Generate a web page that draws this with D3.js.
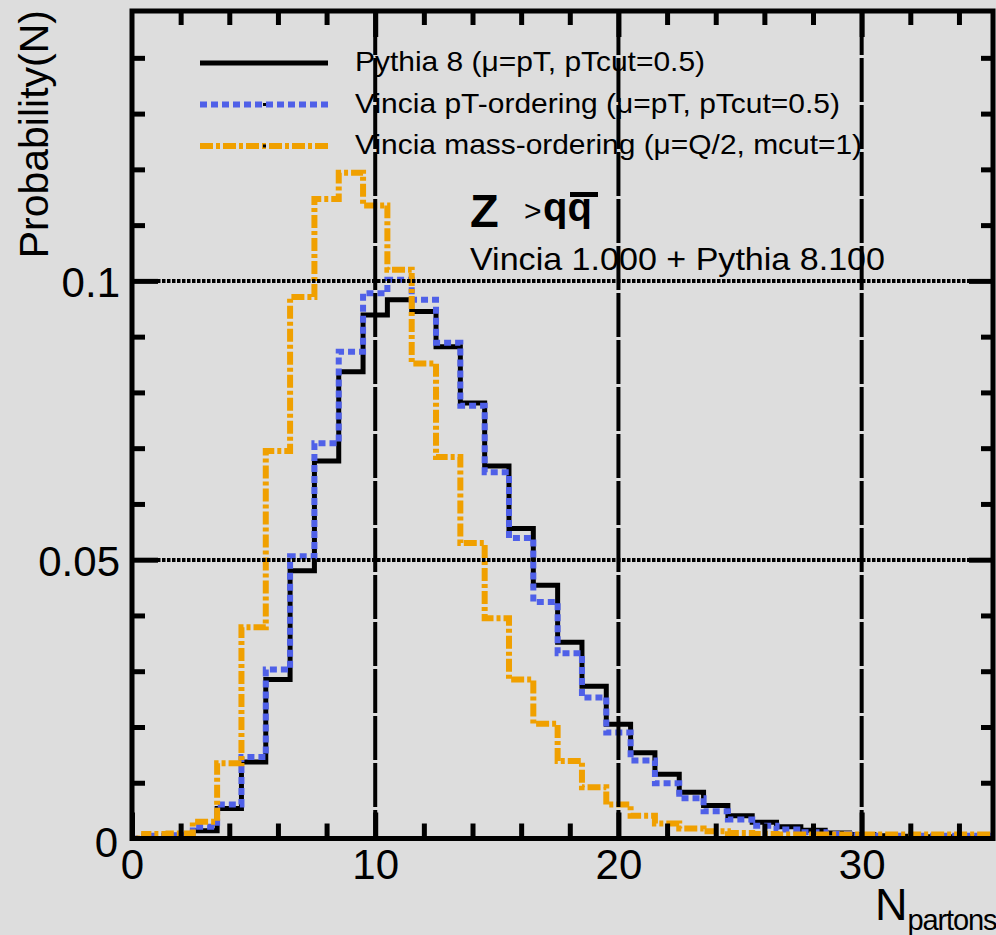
<!DOCTYPE html>
<html>
<head>
<meta charset="utf-8">
<script src="https://cdn.jsdelivr.net/npm/d3@7"></script>
<style>
  html, body { margin: 0; padding: 0; background: #dddddd; }
  svg { display: block; }
  text { font-family: "Liberation Sans", Arial, Helvetica, sans-serif; fill: #000; }
</style>
</head>
<body>
<div id="chart"></div>
<script>
// bins are centred on integer parton multiplicities
var nBins = d3.range(0, 36)

var pythia8 = [0, 0, 0.0002, 0.0014, 0.0054, 0.0137, 0.0285, 0.0480, 0.0677, 0.0837,
  0.0939, 0.0966, 0.0945, 0.0882, 0.0781, 0.0668, 0.0556, 0.0454, 0.0352, 0.0273,
  0.0205, 0.0154, 0.0115, 0.0083, 0.0059, 0.0041, 0.0029, 0.0021, 0.0015, 0.0010,
  0.0007, 0.0005, 0.0004, 0.0003, 0.0003, 0.0002]

var vinciaPT = [0, 0.0005, 0.0006, 0.0021, 0.0061, 0.0146, 0.0303, 0.0506, 0.0709, 0.0873,
  0.0978, 0.1002, 0.0966, 0.0889, 0.0776, 0.0657, 0.0539, 0.0424, 0.0332, 0.0253,
  0.0190, 0.0140, 0.0099, 0.0072, 0.0049, 0.0034, 0.0023, 0.0016, 0.0011, 0.0008,
  0.0006, 0.0005, 0.0005, 0.0005, 0.0005, 0.0005]

var vinciaMass = [0, 0.0008, 0.0009, 0.0030, 0.0135, 0.0379, 0.0695, 0.0971, 0.1147, 0.1194,
  0.1135, 0.1020, 0.0852, 0.0684, 0.0530, 0.0395, 0.0285, 0.0206, 0.0139, 0.0092,
  0.0061, 0.0041, 0.0027, 0.0018, 0.0013, 0.0010, 0.0008, 0.0007, 0.0007, 0.0007,
  0.0007, 0.0007, 0.0007, 0.0007, 0.0007, 0.0007]

var seriesNames = ["Pythia 8 (\u03bc=pT, pTcut=0.5)",
  "Vincia pT-ordering (\u03bc=pT, pTcut=0.5)",
  "Vincia mass-ordering (\u03bc=Q/2, mcut=1)"]

var xMajor = [0, 10, 20, 30]
var xMinor = [2, 4, 6, 8, 12, 14, 16, 18, 22, 24, 26, 28, 32, 34]
var yMajor = [0.05, 0.1]
var yMinor = [0.01, 0.02, 0.03, 0.04, 0.06, 0.07, 0.08, 0.09, 0.11, 0.12, 0.13, 0.14]

var width = 996, height = 935
var plot = {left: 132, right: 993, top: 11, bottom: 838.5}

var svg = d3.select("#chart")
  .append("svg")
  .attr("width", width)
  .attr("height", height)

svg.append("rect").attr("width", width).attr("height", height).attr("fill", "#dddddd")

var x = d3.scaleLinear().domain([0, 35.4]).range([plot.left, plot.right])
var y = d3.scaleLinear().domain([0, 0.1484]).range([plot.bottom, plot.top])

svg.append("clipPath").attr("id", "clip")
  .append("rect")
  .attr("x", plot.left).attr("y", plot.top)
  .attr("width", plot.right - plot.left).attr("height", plot.bottom - plot.top)

var series = [
  {name: seriesNames[0], values: pythia8, color: "#000000", width: 5, dash: null},
  {name: seriesNames[1], values: vinciaPT, color: "#4f60e8", width: 6, dash: "7,4"},
  {name: seriesNames[2], values: vinciaMass, color: "#f0a000", width: 6, dash: "13,3,4,3"}
]

var step = d3.line()
  .x(function(d){ return x(d[0]) })
  .y(function(d){ return y(d[1]) })
  .curve(d3.curveStepAfter)

var hist = svg.append("g").attr("clip-path", "url(#clip)")
series.forEach(function(s) {
  var pts = nBins.map(function(n, i){ return [n - 0.5, s.values[i]] })
  pts.push([nBins[nBins.length - 1] + 0.5, s.values[s.values.length - 1]])
  hist.append("path")
    .datum(pts)
    .attr("d", step)
    .attr("fill", "none")
    .attr("stroke", s.color)
    .attr("stroke-width", s.width)
    .attr("stroke-dasharray", s.dash)
    .attr("stroke-linejoin", "miter")
})

// dotted grid
var grid = svg.append("g")
grid.selectAll(".gx").data(xMajor.slice(1)).enter()
  .append("line")
  .attr("x1", function(d){ return x(d) }).attr("x2", function(d){ return x(d) })
  .attr("y1", plot.top).attr("y2", plot.bottom)
  .attr("stroke", "#000").attr("stroke-width", 4)
  .attr("stroke-dasharray", "44,3")
grid.selectAll(".gy").data(yMajor).enter()
  .append("line")
  .attr("x1", plot.left).attr("x2", plot.right)
  .attr("y1", function(d){ return Math.round(y(d)) }).attr("y2", function(d){ return Math.round(y(d)) })
  .attr("stroke", "#000").attr("stroke-width", 4)
  .attr("stroke-dasharray", "3.5,1.5")

function styleAxis(g) {
  g.select(".domain").remove()
  g.selectAll(".tick line").attr("stroke", "#000").attr("stroke-width", 5)
  g.selectAll("text").style("font-size", "42px").attr("fill", "#000")
    .style("font-family", "'Liberation Sans', Arial, sans-serif")
}

// bottom axis
svg.append("g").attr("transform", "translate(0," + plot.bottom + ")")
  .call(d3.axisBottom(x).tickValues(xMinor).tickSize(-15).tickFormat(""))
  .call(styleAxis)
svg.append("g").attr("transform", "translate(0," + plot.bottom + ")")
  .call(d3.axisBottom(x).tickValues(xMajor).tickSize(-26).tickPadding(11).tickFormat(d3.format("d")))
  .call(styleAxis)

// top axis
svg.append("g").attr("transform", "translate(0," + plot.top + ")")
  .call(d3.axisTop(x).tickValues(xMinor).tickSize(-14).tickFormat(""))
  .call(styleAxis)
svg.append("g").attr("transform", "translate(0," + plot.top + ")")
  .call(d3.axisTop(x).tickValues(xMajor.slice(1)).tickSize(-26).tickFormat(""))
  .call(styleAxis)

// left axis
svg.append("g").attr("transform", "translate(" + plot.left + ",0)")
  .call(d3.axisLeft(y).tickValues(yMinor).tickSize(-13).tickFormat(""))
  .call(styleAxis)
var yAx = svg.append("g").attr("transform", "translate(" + plot.left + ",0)")
  .call(d3.axisLeft(y).tickValues(yMajor).tickSize(-26).tickPadding(12).tickFormat(function(d){ return String(d) }))
  .call(styleAxis)
yAx.selectAll("text").attr("dy", "0.38em")

// right axis
svg.append("g").attr("transform", "translate(" + plot.right + ",0)")
  .call(d3.axisRight(y).tickValues(yMinor).tickSize(-12).tickFormat(""))
  .call(styleAxis)
svg.append("g").attr("transform", "translate(" + plot.right + ",0)")
  .call(d3.axisRight(y).tickValues(yMajor).tickSize(-24).tickFormat(""))
  .call(styleAxis)

// y zero label sits apart from the x zero label
svg.append("text")
  .attr("x", plot.left - 14).attr("y", y(0) + 18)
  .attr("text-anchor", "end")
  .style("font-size", "42px")
  .text("0")

// frame
svg.append("rect")
  .attr("x", plot.left).attr("y", plot.top)
  .attr("width", plot.right - plot.left).attr("height", plot.bottom - plot.top)
  .attr("fill", "none").attr("stroke", "#000").attr("stroke-width", 5)

// axis titles
svg.append("text")
  .attr("transform", "translate(48," + (plot.top - 1) + ") rotate(-90)")
  .attr("text-anchor", "end")
  .style("font-size", "41px")
  .text("Probability(N)")

var xt = svg.append("text")
  .attr("x", 875).attr("y", 920)
  .style("font-size", "45px")
xt.append("tspan").text("N")
xt.append("tspan").attr("dy", 10).style("font-size", "29px").attr("textLength", 90).text("partons")

// legend
var legend = svg.append("g")
series.forEach(function(s, i) {
  var ly = 63 + i * 41.5
  legend.append("line")
    .attr("x1", 200).attr("x2", 328)
    .attr("y1", ly).attr("y2", ly)
    .attr("stroke", s.color)
    .attr("stroke-width", s.width)
    .attr("stroke-dasharray", s.dash)
  if (i > 0) {
    legend.append("rect")
      .attr("x", 263).attr("y", ly - 1.5)
      .attr("width", 3).attr("height", 3)
      .attr("fill", "#000")
  }
  legend.append("text")
    .attr("x", 355).attr("y", ly + 8)
    .style("font-size", "28px")
    .attr("textLength", [350, 485, 507][i])
    .attr("lengthAdjust", "spacingAndGlyphs")
    .text(s.name)
})

// process label
svg.append("text")
  .attr("x", 470).attr("y", 227)
  .style("font-size", "47px").style("font-weight", "bold")
  .text("Z")
svg.append("text")
  .attr("x", 524).attr("y", 221)
  .style("font-size", "30px")
  .text(">")
svg.append("text")
  .attr("x", 543).attr("y", 221)
  .style("font-size", "40px").style("font-weight", "bold")
  .text("qq")
svg.append("rect")
  .attr("x", 570).attr("y", 192)
  .attr("width", 28).attr("height", 5)
  .attr("fill", "#000")

svg.append("text")
  .attr("x", 470).attr("y", 270)
  .style("font-size", "32px")
  .attr("textLength", 415)
  .attr("lengthAdjust", "spacingAndGlyphs")
  .text("Vincia 1.000 + Pythia 8.100")
</script>
</body>
</html>
